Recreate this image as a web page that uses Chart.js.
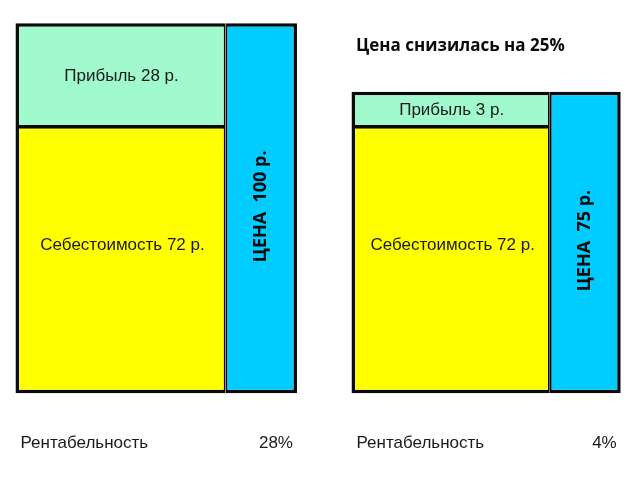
<!DOCTYPE html>
<html><head><meta charset="utf-8">
<script src="https://cdn.jsdelivr.net/npm/chart.js@4.4.1/dist/chart.umd.min.js"></script>
<style>html,body{margin:0;padding:0;background:#fff}#wrap{width:640px;height:487px;position:relative}</style>
</head><body><div id="wrap"><canvas id="c"></canvas></div>
<script>
// ---- data (heights as drawn in the picture) ----
const groups = ['Цена 100 р.', 'Цена 75 р.'];
const cost = [72, 72];
const profit = [28, 9.5];
const price = [100, 81.5];
const profitLabels = ['Прибыль 28 р.', 'Прибыль 3 р.'];
const costLabels = ['Себестоимость 72 р.', 'Себестоимость 72 р.'];
const priceLabels = ['ЦЕНА  100 р.', 'ЦЕНА  75 р.'];
const rentLabel = 'Рентабельность';
const rentValues = ['28%', '4%'];
const titleText = 'Цена снизилась на 25%';

// ---- styles ----
const colCost = '#FFFF00', colProfit = '#A0FACD', colPrice = '#00CCFF', colBorder = '#0a0a0a';
const B = 3.5, H = 1.9;
const stackPct = [1.4927, 1.473];
const catPct = [0.8607, 0.8231];

const only = (arr, i) => arr.map((v, j) => j === i ? v : null);
const datasets = [];
groups.forEach((g, i) => {
  datasets.push({ label: 'cost' + i, data: only(cost, i), stack: 's', backgroundColor: colCost,
    borderColor: colBorder, borderWidth: {left: B, bottom: B, right: H, top: H},
    barPercentage: stackPct[i], categoryPercentage: catPct[i] });
  datasets.push({ label: 'profit' + i, data: only(profit, i), stack: 's', backgroundColor: colProfit,
    borderColor: colBorder, borderWidth: {left: B, top: B, right: H, bottom: H},
    barPercentage: stackPct[i], categoryPercentage: catPct[i] });
});
groups.forEach((g, i) => {
  datasets.push({ label: 'price' + i, data: only(price, i), stack: 'p', backgroundColor: colPrice,
    borderColor: colBorder, borderWidth: {left: H, top: B, right: B, bottom: B},
    barPercentage: 2 - stackPct[i], categoryPercentage: catPct[i] });
});

const textPlugin = {
  id: 'texts',
  afterDatasetsDraw(chart) {
    const ctx = chart.ctx;
    const ys = chart.scales.y;
    ctx.save();
    groups.forEach((g, i) => {
      const c = chart.getDatasetMeta(i * 2).data[i];
      const p = chart.getDatasetMeta(i * 2 + 1).data[i];
      const pr = chart.getDatasetMeta(groups.length * 2 + i).data[i];
      const left = c.x - c.width / 2;
      const right = pr.x + pr.width / 2;
      ctx.fillStyle = '#1a1a1a';
      ctx.font = '17px "Liberation Sans", Arial, sans-serif';
      ctx.textAlign = 'center';
      ctx.textBaseline = 'middle';
      ctx.fillText(profitLabels[i], p.x + 1, (p.y + p.base) / 2 + 1);
      ctx.fillText(costLabels[i], c.x + 2, ys.getPixelForValue(cost[i] * 0.555));
      ctx.textAlign = 'left';
      ctx.fillText(rentLabel, left + 5, 443);
      ctx.textAlign = 'right';
      ctx.fillText(rentValues[i], right - 4, 443);
      // rotated price label
      ctx.save();
      ctx.translate(pr.x, (pr.y + pr.base) / 2 - 2);
      ctx.rotate(-Math.PI / 2);
      ctx.textAlign = 'center';
      ctx.fillStyle = '#0a0a0a';
      ctx.font = 'bold 18px "Open Sans", sans-serif';
      ctx.fillText(priceLabels[i], 0, 0);
      ctx.restore();
      if (i === 1) {
        ctx.textAlign = 'left';
        ctx.fillStyle = '#0a0a0a';
        ctx.font = 'bold 17px "Open Sans", sans-serif';
        ctx.fillText(titleText, left + 4.5, 46);
      }
    });
    ctx.restore();
  }
};

new Chart(document.getElementById('c'), {
  type: 'bar',
  data: { labels: groups, datasets },
  options: {
    responsive: true, maintainAspectRatio: false, animation: false,
    layout: { padding: { left: 190.9, right: 122.05, top: 23.3, bottom: 93.7 } },
    datasets: { bar: { clip: false, borderSkipped: false, inflateAmount: 0 } },
    plugins: { legend: { display: false }, tooltip: { enabled: false }, title: { display: false } },
    scales: {
      x: { type: 'category', offset: false, stacked: true, display: false },
      y: { min: 0, max: 100, stacked: true, display: false }
    }
  },
  plugins: [textPlugin]
});
</script></body></html>
